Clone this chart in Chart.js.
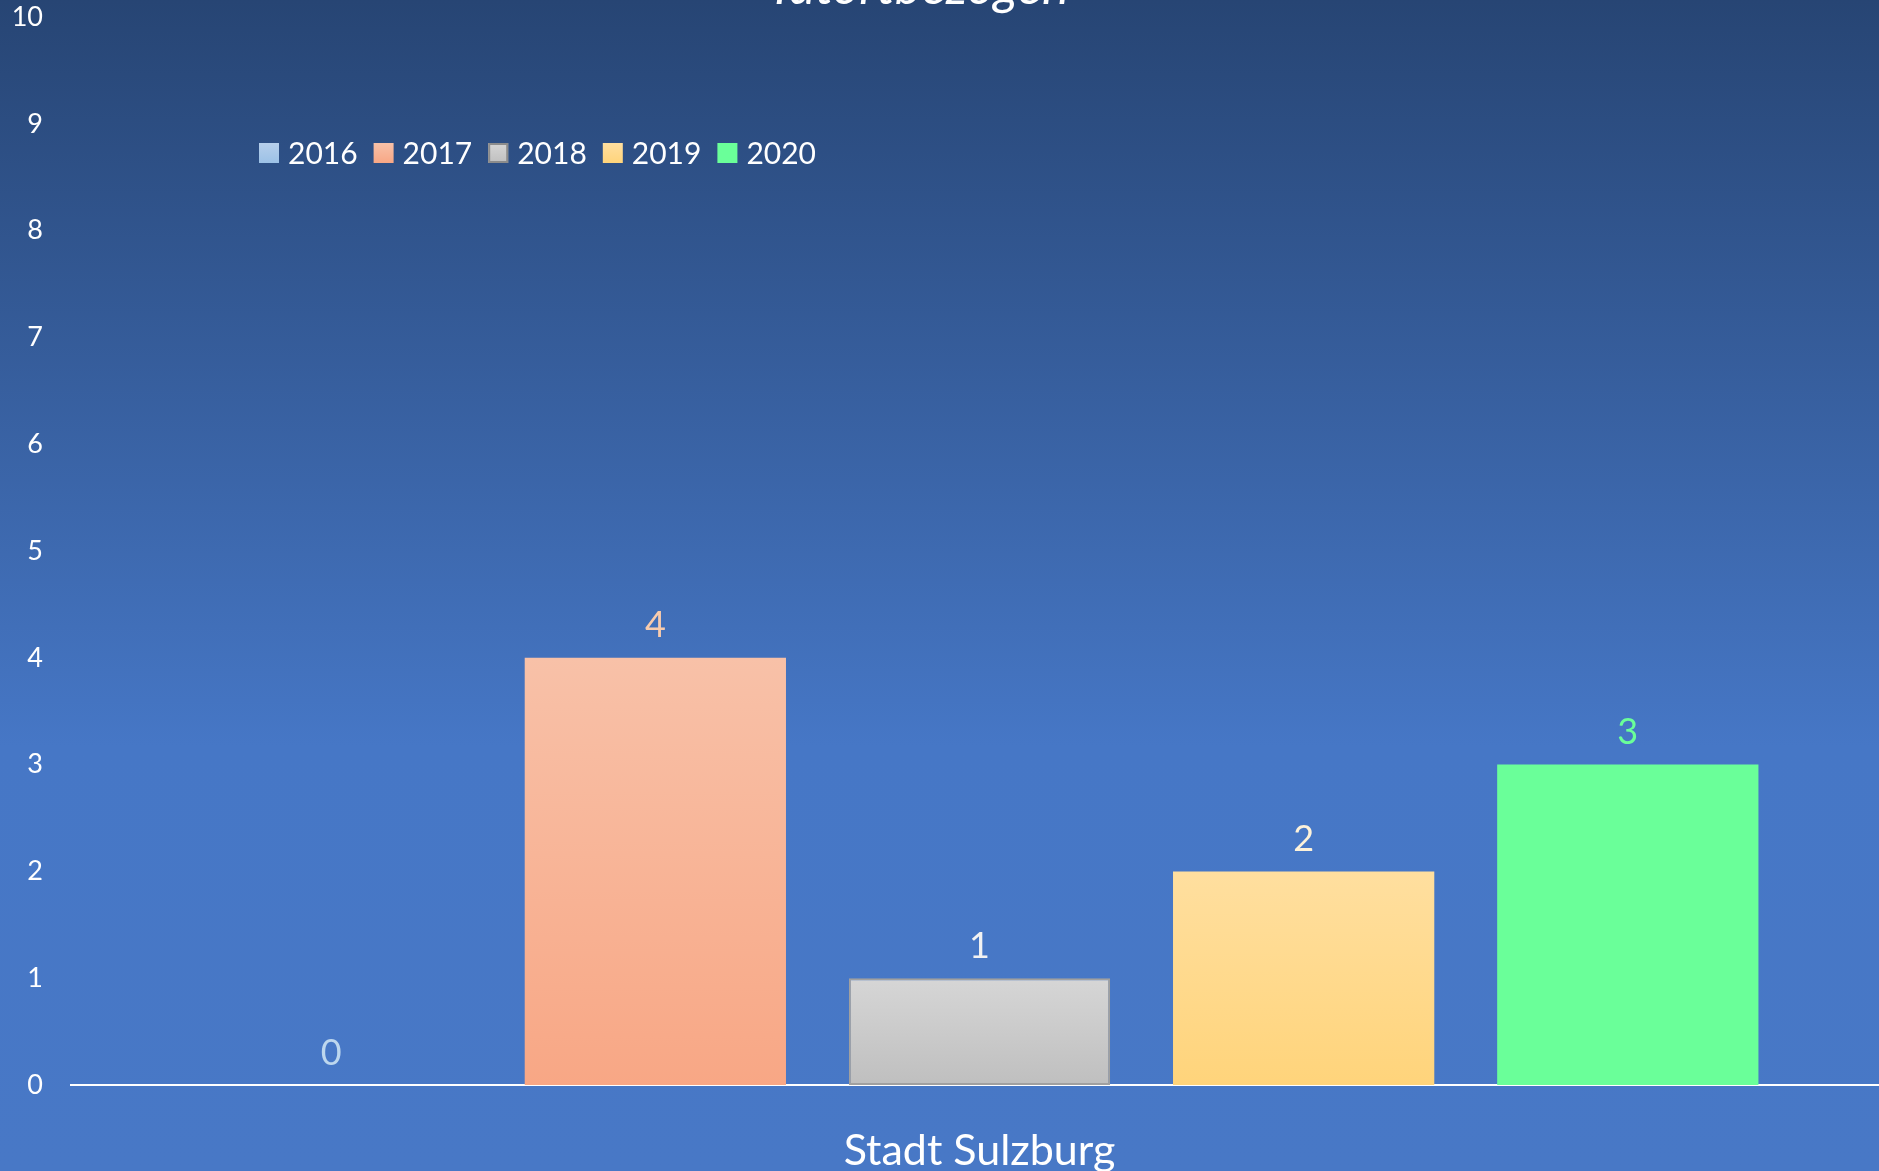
<!DOCTYPE html>
<html>
<head>
<meta charset="utf-8">
<script src="https://cdn.jsdelivr.net/npm/chart.js@4.4.1/dist/chart.umd.min.js"></script>
<style>
  html, body { margin: 0; padding: 0; overflow: hidden; width: 1879px; height: 1171px; background: #4878c6; }
  #wrap { position: absolute; left: -52px; top: -44px; width: 1940px; height: 1215px; }
</style>
</head>
<body>
<div id="wrap"><canvas id="chart"></canvas></div>
<script>
const title = "Tatortbezogen"
const categories = ["Stadt Sulzburg"]
const years = ["2016", "2017", "2018", "2019", "2020"]
const values = [0, 4, 1, 2, 3]
const yTicks = [0, 1, 2, 3, 4, 5, 6, 7, 8, 9, 10]

// top / bottom colour of every series' gradient, label colour, border
const topColors = ["#b6cfeb", "#f8c1a8", "#d6d6d6", "#ffdf9f", "#6aff99"]
const bottomColors = ["#9cc1e6", "#f8a785", "#bfbfbf", "#ffd47b", "#6aff99"]
const labelColors = ["#bdd7ee", "#f8cbad", "#f2f2f2", "#fdf2da", "#6aff99"]
const borderColors = [null, null, "#a0a0a0", null, null]

Chart.defaults.font.family = "Lato, 'Open Sans', sans-serif"
Chart.defaults.color = "#ffffff"

function barGradient(i) {
  return (ctx) => {
    const chart = ctx.chart
    const area = chart.chartArea
    if (!area) return topColors[i]
    const y = chart.scales.y
    const top = y.getPixelForValue(values[i])
    const base = y.getPixelForValue(0)
    if (base - top < 1) return topColors[i]
    const g = chart.ctx.createLinearGradient(0, top, 0, base)
    g.addColorStop(0, topColors[i])
    g.addColorStop(1, bottomColors[i])
    return g
  }
}

const datasets = years.map((year, i) => ({
  label: year,
  data: [values[i]],
  backgroundColor: barGradient(i),
  borderColor: borderColors[i] || "rgba(0,0,0,0)",
  borderWidth: borderColors[i] ? 2 : 0,
  borderSkipped: false,
}))

const backgroundPlugin = {
  id: "background",
  beforeDraw(chart) {
    const { ctx, width, height } = chart
    const g = ctx.createLinearGradient(0, 0, 0, height)
    g.addColorStop(0, "#25426f")
    g.addColorStop(0.65, "#4677c6")
    g.addColorStop(1, "#4878c6")
    ctx.save()
    ctx.fillStyle = g
    ctx.fillRect(0, 0, width, height)
    ctx.restore()
  },
}

const valueLabelPlugin = {
  id: "valueLabels",
  afterDatasetsDraw(chart) {
    const ctx = chart.ctx
    ctx.save()
    ctx.font = "36px Lato, 'Open Sans', sans-serif"
    ctx.textAlign = "center"
    ctx.textBaseline = "middle"
    chart.data.datasets.forEach((ds, i) => {
      const bar = chart.getDatasetMeta(i).data[0]
      ctx.fillStyle = labelColors[i]
      ctx.fillText(String(ds.data[0]), bar.x, bar.y - 32)
    })
    ctx.restore()
  },
}

const legendPlugin = {
  id: "innerLegend",
  afterDraw(chart) {
    const ctx = chart.ctx
    const area = chart.chartArea
    const box = 20
    let x = area.left + 188
    const cy = area.top + 136
    ctx.save()
    ctx.font = "30px Lato, 'Open Sans', sans-serif"
    ctx.textBaseline = "middle"
    chart.data.datasets.forEach((ds, i) => {
      const g = ctx.createLinearGradient(0, cy - box / 2, 0, cy + box / 2)
      g.addColorStop(0, topColors[i])
      g.addColorStop(1, bottomColors[i])
      ctx.fillStyle = g
      ctx.fillRect(x, cy - box / 2, box, box)
      if (borderColors[i]) {
        ctx.strokeStyle = "#8c8c8c"
        ctx.lineWidth = 2
        ctx.strokeRect(x + 1, cy - box / 2 + 1, box - 2, box - 2)
      }
      ctx.fillStyle = "#ffffff"
      ctx.fillText(ds.label, x + box + 9, cy + 1)
      x += box + 9 + ctx.measureText(ds.label).width + 16
    })
    ctx.restore()
  },
}

new Chart(document.getElementById("chart"), {
  type: "bar",
  data: {
    labels: categories,
    datasets: datasets,
  },
  options: {
    responsive: true,
    maintainAspectRatio: false,
    animation: false,
    layout: { padding: 0 },
    datasets: {
      bar: { categoryPercentage: 0.892, barPercentage: 0.806 },
    },
    plugins: {
      legend: { display: false },
      tooltip: { enabled: false },
      title: {
        display: true,
        text: title,
        color: "#ffffff",
        font: { size: 51, style: "italic", weight: "normal", lineHeight: 1.0 },
        padding: { top: 6, bottom: 4 },
      },
    },
    scales: {
      x: {
        grid: { display: false },
        border: { display: true, color: "#ffffff", width: 2 },
        ticks: { color: "#ffffff", font: { size: 43 }, padding: 32 },
        afterFit(scale) { scale.height = 86 },
      },
      y: {
        min: yTicks[0],
        max: yTicks[yTicks.length - 1],
        afterBuildTicks(scale) { scale.ticks = yTicks.map((v) => ({ value: v })) },
        grid: { display: false },
        border: { display: false },
        ticks: { color: "#ffffff", font: { size: 27 }, padding: 20 },
        afterFit(scale) { scale.width = 123 },
      },
    },
  },
  plugins: [backgroundPlugin, valueLabelPlugin, legendPlugin],
})
</script>
</body>
</html>
